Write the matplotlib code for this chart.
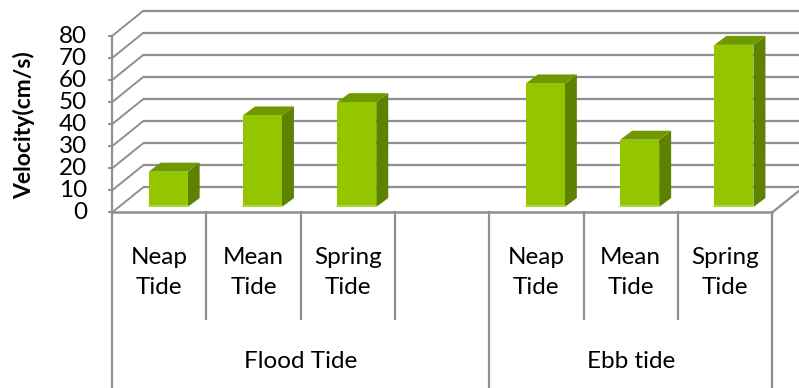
import matplotlib
matplotlib.use("Agg")
import matplotlib.pyplot as plt
from matplotlib.patches import Polygon

# ---- data ----
groups = ["Flood Tide", "Ebb tide"]
group_sizes = [4, 3]
categories = ["Neap\nTide", "Mean\nTide", "Spring\nTide", "",
              "Neap\nTide", "Mean\nTide", "Spring\nTide"]
velocity = [16, 41.5, 47.5, None, 56, 30.5, 73.5]
y_ticks = [0, 10, 20, 30, 40, 50, 60, 70, 80]
y_label = "Velocity(cm/s)"

# ---- layout (pixel scale of the front plane) ----
W, H = 799, 388
X0_PX, CAT_PX = 112.0, 94.3          # left edge of category 0, width per category
Y0_PX, VAL_PX = 212.5, 2.206         # pixel row of value 0, pixels per unit
WALL_DX, WALL_DY = 31, 25            # depth of the 3D box (pixels)
BAR_DX, BAR_DY = 9, 5.5              # bar front face offset from front plane
BAR_DEPTH_X, BAR_DEPTH_Y = 12, 9     # bar depth
BAR_W = 39 / CAT_PX
FS = 17.5

def dx(px):
    return px / CAT_PX

def dy(px):
    return px / VAL_PX

plt.rcParams['font.family'] = ['Lato', 'DejaVu Sans']

fig = plt.figure(figsize=(W / 100, H / 100), dpi=100)
ax = fig.add_axes([0, 0, 1, 1])
ax.set_xlim(-X0_PX / CAT_PX, (W - X0_PX) / CAT_PX)
ax.set_ylim((Y0_PX - H) / VAL_PX, Y0_PX / VAL_PX)
ax.axis('off')

n = len(categories)
grid_col = '#8f8f8f'
ymax = y_ticks[-1]

# back wall and side wall gridlines
for v in y_ticks:
    ax.plot([dx(WALL_DX), n + dx(WALL_DX)], [v + dy(WALL_DY)] * 2,
            color=grid_col, lw=1.6, solid_capstyle='butt', zorder=1)
    ax.plot([0, dx(WALL_DX)], [v, v + dy(WALL_DY)],
            color=grid_col, lw=1.4, zorder=1)

# floor right edge
ax.plot([n, n + dx(WALL_DX)], [0, dy(WALL_DY)], color=grid_col, lw=1.6, zorder=1)

# front value axis with ticks
ax.plot([0, 0], [0, ymax], color=grid_col, lw=1.6, zorder=5)
for v in y_ticks:
    ax.plot([-dx(3), 0], [v, v], color=grid_col, lw=1.4, zorder=5)
    ax.text(-dx(25), v, str(v), ha='right', va='center', fontsize=FS,
            color='#000000')

# floor front edge
ax.plot([0, n], [0, 0], color=grid_col, lw=1.8, zorder=6)

# bars
front_c = '#94C600'
side_c = '#5E8200'
top_c = '#6E9A00'
for i, v in enumerate(velocity):
    if v is None:
        continue
    x_l = i + 0.5 - BAR_W / 2 + dx(BAR_DX)
    x_r = x_l + BAR_W
    y_b = dy(BAR_DY)
    y_t = y_b + v
    ddx, ddy = dx(BAR_DEPTH_X), dy(BAR_DEPTH_Y)
    ax.add_patch(Polygon([(x_r, y_b), (x_r + ddx, y_b + ddy),
                          (x_r + ddx, y_t + ddy), (x_r, y_t)],
                         closed=True, fc=side_c, ec='none', zorder=3))
    ax.add_patch(Polygon([(x_l, y_t), (x_r, y_t), (x_r + ddx, y_t + ddy),
                          (x_l + ddx, y_t + ddy)],
                         closed=True, fc=top_c, ec='none', zorder=3))
    ax.add_patch(Polygon([(x_l, y_b), (x_r, y_b), (x_r, y_t), (x_l, y_t)],
                         closed=True, fc=front_c, ec='none', zorder=4))
    ax.plot([x_l, x_r], [y_b + dy(0.5)] * 2, color='#B8DA4E', lw=1.2, zorder=4)

# category label table
inner_bottom = dy(Y0_PX - 319)
table_bottom = dy(Y0_PX - H)
for i, lab in enumerate(categories):
    if lab:
        line1, line2 = lab.split("\n")
        ax.text(i + 0.5, dy(Y0_PX - 257), line1, ha='center', va='center',
                fontsize=FS)
        ax.text(i + 0.5, dy(Y0_PX - 288), line2, ha='center', va='center',
                fontsize=FS)

group_edges = [0]
for s in group_sizes:
    group_edges.append(group_edges[-1] + s)

for k in range(1, n):
    if k not in group_edges:
        ax.plot([k, k], [0, inner_bottom], color=grid_col, lw=1.6, zorder=6)
for k in group_edges:
    ax.plot([k, k], [0, table_bottom], color=grid_col, lw=1.6, zorder=6)

for g, (a, b) in zip(groups, zip(group_edges[:-1], group_edges[1:])):
    ax.text((a + b) / 2, dy(Y0_PX - 362), g, ha='center', va='center',
            fontsize=FS)

# value axis title
ax.text(-dx(X0_PX - 24), dy(Y0_PX - 125), y_label, rotation=90,
        ha='center', va='center', fontsize=16.5, fontweight='bold')

fig.savefig("out.png", dpi=100)
